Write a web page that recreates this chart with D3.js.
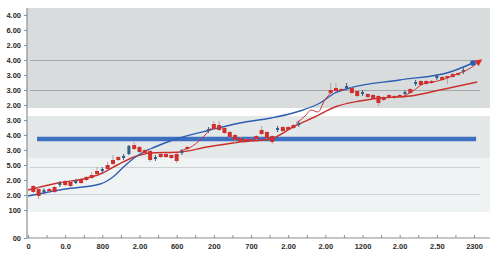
<!DOCTYPE html>
<html>
<head>
<meta charset="utf-8">
<script src="https://cdn.jsdelivr.net/npm/d3@7"></script>
<style>
  body { margin: 0; background: #fff; }
  svg { display: block; font-family: "Open Sans", sans-serif; }
</style>
</head>
<body>
<svg id="svg1" width="500" height="272"></svg>
<script>
// tick labels (as printed on the chart)
var xLabels = ["0", "0.0", "800", "2.00", "600", "200", "700", "2.00", "2.00", "1200", "2.00", "2.50", "2300"];
var yTickValues = [0, 28, 43, 58, 73, 88, 103, 118, 133, 148, 163, 178, 193, 208, 223];
var yLabels = ["00", "100", "2.00", "2.00", "5.00", "3.00", "4.00", "3.00", "2.00", "3.00", "3.00", "4.00", "2.00", "6.00", "4.00"];

// shaded ranges and grid levels
var bands = [[130, 230], [80, 122], [26, 80]];
var gridLevels = [178, 148, 71, 44];
var refLevel = { from: 1.7, to: 84.4, value: 99 };

// candles: [index, open, close, high, low]
var candles = [
  [1, 52, 46, 53, 45], [2, 49, 42, 52, 39], [3, 46, 48, 50, 44], [4, 49, 47, 50, 46],
  [5, 51, 46, 52, 45], [6, 53, 55, 57, 51], [7, 57, 53, 58, 52], [8, 56, 52, 57, 51],
  [9, 55, 57, 59, 54], [10, 59, 55, 60, 54], [11, 61, 58, 62, 57], [12, 63, 60, 66, 59],
  [13, 67, 64, 71, 63], [14, 67, 69, 71, 65], [15, 73, 69, 76, 68], [16, 78, 74, 83, 73],
  [17, 81, 78, 82, 77], [18, 80, 82, 84, 78], [19, 84, 92, 93, 83], [20, 93, 89, 96, 88],
  [21, 91, 86, 92, 85], [22, 88, 85, 89, 84], [23, 87, 78, 90, 76], [24, 79, 81, 83, 77],
  [25, 84, 81, 85, 80], [26, 84, 81, 85, 80], [27, 83, 80, 84, 79], [28, 84, 77, 85, 75],
  [29, 85, 87, 89, 83], [30, 91, 89, 92, 88],
  [34, 107, 109, 111, 105], [35, 114, 109, 117, 108], [36, 113, 108, 117, 107],
  [37, 110, 105, 111, 104], [38, 106, 101, 107, 100], [39, 103, 98, 104, 95],
  [40, 100, 96, 101, 95], [41, 99, 96, 100, 95], [42, 99, 97, 100, 96], [43, 102, 99, 103, 98],
  [44, 108, 104, 112, 103], [45, 106, 100, 107, 99], [46, 102, 96, 103, 94],
  [47, 108, 110, 112, 106], [48, 111, 107, 112, 106], [49, 111, 108, 112, 107],
  [50, 113, 110, 114, 109], [51, 113, 115, 117, 111],
  [57, 148, 145, 155, 144], [58, 150, 147, 155, 146], [59, 149, 147, 150, 146],
  [60, 150, 152, 155, 148], [61, 150, 145, 151, 144], [62, 147, 142, 148, 141],
  [63, 144, 146, 148, 142], [64, 144, 141, 145, 140], [65, 143, 139, 144, 138],
  [66, 142, 135, 143, 132], [67, 141, 138, 142, 137], [68, 143, 140, 144, 139],
  [69, 142, 140, 143, 139], [70, 143, 141, 144, 140], [71, 144, 146, 148, 142],
  [72, 149, 145, 150, 144], [73, 154, 156, 158, 152], [74, 157, 153, 158, 152],
  [75, 157, 154, 158, 153], [76, 157, 155, 158, 154], [77, 160, 162, 164, 158],
  [78, 161, 158, 162, 157], [79, 162, 160, 162, 154], [80, 164, 161, 165, 160],
  [81, 165, 163, 166, 162], [82, 166, 168, 170, 164]
];

// smooth curves: [index, value]
var blueCurve = [[0, 42], [7, 49], [13.6, 54], [16, 61], [18.6, 74], [21.1, 84], [23.9, 91],
  [27.3, 98], [34.3, 108], [39.9, 115], [45.8, 120], [51.2, 127], [55, 135], [57.8, 145],
  [60.6, 150], [70, 158], [79.5, 166], [83.8, 175]];
var redAverage = [[0, 48], [5.6, 55], [10.4, 59], [13.6, 64], [16.8, 73], [20.5, 82], [23, 85],
  [28.6, 86], [33.7, 91], [40, 96], [45.6, 99], [50.6, 113], [54, 121], [57.8, 131],
  [62.5, 137], [66.3, 140], [72, 142], [77.6, 148], [84.6, 156]];
var trendA = [[28.6, 87], [31, 92], [33, 101], [34.5, 110]];
var trendB = [[50.5, 115], [52.2, 122], [53.3, 128], [54.6, 126], [55.9, 138], [57.4, 147]];
var trendC = [[70.6, 141], [72.5, 147], [74.4, 154], [76.3, 156], [78.5, 159], [80.8, 164], [82.7, 168], [85.1, 177]];

var svg = d3.select("#svg1");

var x = d3.scaleLinear().domain([0, 84]).range([28, 474]);
var y = d3.scaleLinear().domain([0, 230]).range([238, 8]);
var xEnd = 87;

var bandFills = ["#d8dcdd", "#e5e8e9", "#f0f3f4"];

svg.selectAll(".band")
    .data(bands)
    .enter()
    .append("rect")
      .attr("class", "band")
      .attr("x", x(0) - 1)
      .attr("width", x(xEnd) - x(0) + 1)
      .attr("y", function(d) { return y(d[1]); })
      .attr("height", function(d) { return y(d[0]) - y(d[1]); })
      .attr("fill", function(d, i) { return bandFills[i]; });

svg.selectAll(".grid")
    .data(gridLevels)
    .enter()
    .append("line")
      .attr("class", "grid")
      .attr("x1", x(0.4))
      .attr("x2", x(85.2))
      .attr("y1", function(d) { return y(d) + 0.5; })
      .attr("y2", function(d) { return y(d) + 0.5; })
      .attr("stroke", function(d) { return d > 120 ? "#a3a8aa" : "#cdd1d2"; })
      .attr("stroke-width", 1.2);

// reference level bar
svg.append("line")
    .attr("x1", x(refLevel.from))
    .attr("x2", x(refLevel.to))
    .attr("y1", y(refLevel.value))
    .attr("y2", y(refLevel.value))
    .attr("stroke", "#3e6fc0")
    .attr("stroke-width", 4.5);

var line = d3.line()
    .x(function(d) { return x(d[0]); })
    .y(function(d) { return y(d[1]); })
    .curve(d3.curveMonotoneX);

svg.append("path")
    .attr("d", line(redAverage))
    .attr("fill", "none")
    .attr("stroke", "#c9302c")
    .attr("stroke-width", 1.4);

svg.append("path")
    .attr("d", line(blueCurve))
    .attr("fill", "none")
    .attr("stroke", "#2c5fb2")
    .attr("stroke-width", 1.4);

// candles
var cw = 4;
var candle = svg.selectAll(".candle")
    .data(candles)
    .enter()
    .append("g")
      .attr("class", "candle");

candle.append("line")
    .attr("x1", function(d) { return x(d[0]); })
    .attr("x2", function(d) { return x(d[0]); })
    .attr("y1", function(d) { return y(d[3]); })
    .attr("y2", function(d) { return y(d[4]); })
    .attr("stroke", function(d) { return d[2] > d[1] ? "#3d5f86" : "#b8a2a2"; })
    .attr("stroke-width", 1);

candle.append("rect")
    .attr("x", function(d) { return x(d[0]) - (d[2] > d[1] ? 1.5 : cw / 2); })
    .attr("width", function(d) { return d[2] > d[1] ? 3 : cw; })
    .attr("y", function(d) { return y(Math.max(d[1], d[2])); })
    .attr("height", function(d) { return Math.max(2, Math.abs(y(d[1]) - y(d[2]))); })
    .attr("fill", function(d) { return d[2] > d[1] ? "#2e5f86" : "#d12f2c"; });

svg.selectAll(".trend")
    .data([trendA, trendB, trendC])
    .enter()
    .append("path")
      .attr("class", "trend")
      .attr("d", function(d) { return line(d); })
      .attr("fill", "none")
      .attr("stroke", "#cf3532")
      .attr("stroke-width", 1);

// end markers
var bEnd = blueCurve[blueCurve.length - 1];
svg.append("circle")
    .attr("cx", x(bEnd[0]))
    .attr("cy", y(bEnd[1]))
    .attr("r", 2.8)
    .attr("fill", "#2c5fb2");

var tEnd = trendC[trendC.length - 1];
var tPrev = trendC[trendC.length - 2];
var ang = Math.atan2(y(tEnd[1]) - y(tPrev[1]), x(tEnd[0]) - x(tPrev[0])) * 180 / Math.PI;
svg.append("path")
    .attr("d", "M3,0 L-4,-3.5 L-4,3.5 Z")
    .attr("transform", "translate(" + x(tEnd[0]) + "," + y(tEnd[1]) + ") rotate(" + ang + ")")
    .attr("fill", "#d12f2c");

// axes
var xAxis = svg.append("g")
    .attr("transform", "translate(0," + y(0) + ")")
    .call(d3.axisBottom(x)
        .tickValues(d3.range(0, 85, 3.5))
        .tickSize(-3)
        .tickPadding(6)
        .tickFormat(function(d) { return d % 7 === 0 ? xLabels[d / 7] : ""; }));
xAxis.select(".domain").remove();
xAxis.selectAll(".tick line").attr("stroke", "#8a8f92");
xAxis.selectAll("text")
    .attr("font-size", 7.5)
    .attr("font-weight", 600)
    .attr("fill", "#2a2a2a");

var yAxis = svg.append("g")
    .attr("transform", "translate(" + (x(0) - 1) + ",0)")
    .call(d3.axisLeft(y)
        .tickValues(yTickValues)
        .tickSize(3)
        .tickPadding(3)
        .tickFormat(function(d, i) { return yLabels[i]; }));
yAxis.select(".domain").remove();
yAxis.selectAll(".tick line").attr("stroke", "#8a8f92");
yAxis.selectAll("text")
    .attr("font-size", 7.5)
    .attr("font-weight", 600)
    .attr("fill", "#2a2a2a");

svg.append("line")
    .attr("x1", x(0) - 1)
    .attr("x2", x(0) - 1)
    .attr("y1", y(230))
    .attr("y2", y(0))
    .attr("stroke", "#8a8f92")
    .attr("stroke-width", 1.2);

svg.append("line")
    .attr("x1", x(0) - 1)
    .attr("x2", x(xEnd))
    .attr("y1", y(0))
    .attr("y2", y(0))
    .attr("stroke", "#8a8f92")
    .attr("stroke-width", 1.2);
</script>
</body>
</html>
